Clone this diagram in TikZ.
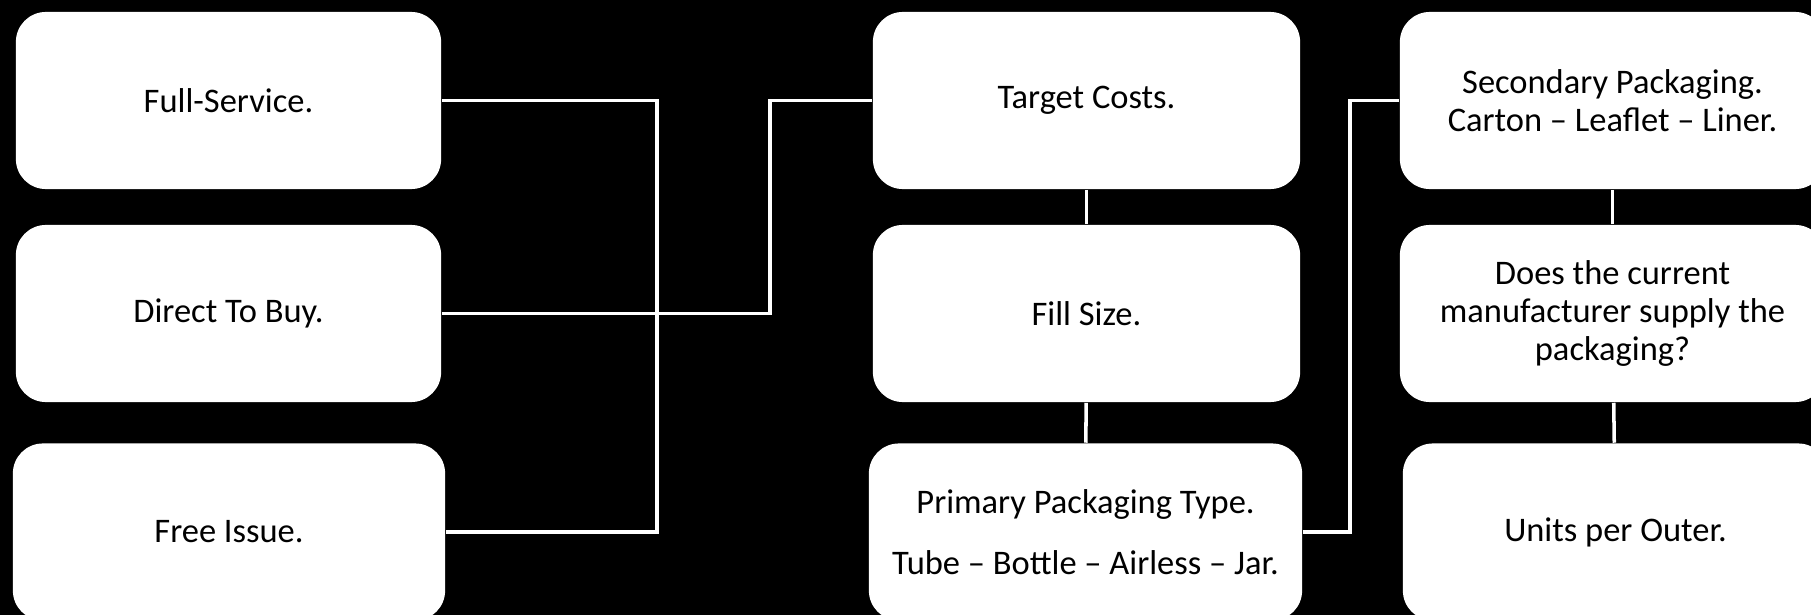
\documentclass[tikz,border=0pt]{standalone}
\usepackage{fontspec}
\setmainfont{Carlito}
\usetikzlibrary{positioning}

\tikzset{
  box/.style={rectangle,rounded corners=0.3cm,fill=white,text=black,
    minimum width=4.25cm,minimum height=1.77cm,align=center,inner sep=0pt,
    font=\fontsize{9.8}{10.8}\selectfont},
  link/.style={color=white,line width=1pt}
}

\begin{document}
\begin{tikzpicture}[x=0.01cm,y=-0.01cm]

          \useasboundingbox (0,0) rectangle (1811,615);
          \fill[black] (0,0) rectangle (1811,615);

          \node[box]                    (FS) at ( 228.5, 100.5) {Full-Service.};
          \node[box]                    (DB) at ( 228.5, 313.5) {Direct To Buy.};
          \node[box,minimum width=4.32cm] (FI) at ( 229  , 532  ) {Free Issue.};
          \node[box,minimum width=4.27cm] (TC) at (1086.5, 100.5) {Target Costs.};
          \node[box,minimum width=4.27cm] (FZ) at (1086.5, 313.5) {Fill Size.};
          \node[box,minimum width=4.33cm] (PP) at (1085.5, 532  ) {Primary Packaging Type.\\[6.6pt]
                                                               Tube -- Bottle -- Airless -- Jar.};
          \node[box]                    (SP) at (1612.5, 100.5) {Secondary Packaging.\\
                                                               Carton -- Leaflet -- Liner.};
          \node[box]                    (MS) at (1612.5, 313.5) {Does the current\\
                                                               manufacturer supply the\\ packaging?};
          \node[box]                    (UO) at (1615.5, 532  ) {Units per Outer.};

          % bends of the elbow connectors
          \coordinate (busL) at ( 657, 313);
          \coordinate (busM) at ( 770, 200);
          \coordinate (busR) at (1350, 300);

          \draw[link] (FS.east) -| (busL) |- (FI.east);
          \draw[link] (DB.east) -| (busM) |- (TC.west);
          \draw[link] (PP.east) -| (busR) |- (SP.west);

          \path[link] (TC) edge (FZ)
                      (FZ) edge (PP)
                      (SP) edge (MS)
                      (MS) edge (UO);
\end{tikzpicture}
\end{document}
